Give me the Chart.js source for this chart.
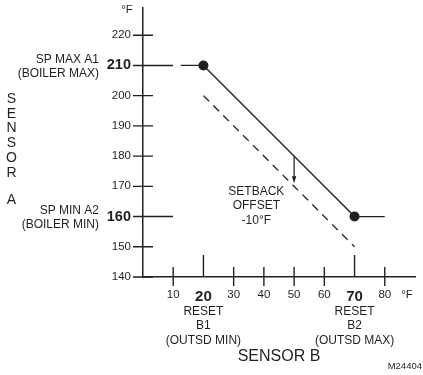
<!DOCTYPE html>
<html>
<head>
<meta charset="utf-8">
<script src="https://cdn.jsdelivr.net/npm/chart.js@4"></script>
<style>
  html, body { margin: 0; padding: 0; background: #fff; }
  canvas { display: block; }
</style>
</head>
<body>
<canvas id="resetChart" width="423" height="375"></canvas>
<script>
// tick values on each axis
const xTicks = [10, 20, 30, 40, 50, 60, 70, 80];
const yTicks = [140, 150, 160, 170, 180, 190, 200, 210, 220];
const boldX = [20, 70];
const boldY = [160, 210];

// reset curve (outdoor temp -> boiler setpoint)
const curveX = [12.5, 20, 70, 80];
const curveY = [210, 210, 160, 160];

// setback curve, offset -10°F
const setbackX = [20, 70];
const setbackY = [200, 150];

// setback offset arrow
const arrowX = 50;
const arrowFrom = 180;
const arrowTo = 170;

const ink = '#231f20';
const font = 'Liberation Sans, Arial, sans-serif';

const decor = {
    id: 'decor',
    afterDraw(chart) {
        const { ctx, scales: { x, y } } = chart;
        const left = x.left, bottom = y.bottom;
        ctx.save();
        ctx.strokeStyle = ink;
        ctx.fillStyle = ink;
        ctx.lineWidth = 1.4;

        // tick marks crossing the axes
        ctx.beginPath();
        yTicks.forEach(v => {
            const py = y.getPixelForValue(v);
            ctx.moveTo(left - 10, py);
            ctx.lineTo(left + (boldY.includes(v) ? 30 : 10), py);
        });
        xTicks.forEach(v => {
            const px = x.getPixelForValue(v);
            if (boldX.includes(v)) {
                ctx.moveTo(px, bottom - 22);
                ctx.lineTo(px, bottom);
            } else {
                ctx.moveTo(px, bottom - 10);
                ctx.lineTo(px, bottom + 9);
            }
        });
        ctx.stroke();

        // setback arrow
        const ax = x.getPixelForValue(arrowX);
        const a1 = y.getPixelForValue(arrowFrom);
        const a2 = y.getPixelForValue(arrowTo) - 3;
        ctx.lineWidth = 1.2;
        ctx.beginPath();
        ctx.moveTo(ax, a1);
        ctx.lineTo(ax, a2 - 4);
        ctx.stroke();
        ctx.beginPath();
        ctx.moveTo(ax - 2.2, a2 - 7);
        ctx.lineTo(ax + 2.2, a2 - 7);
        ctx.lineTo(ax, a2);
        ctx.closePath();
        ctx.fill();

        // annotations
        ctx.textBaseline = 'middle';
        ctx.font = '12px ' + font;
        ctx.textAlign = 'right';
        const y210 = y.getPixelForValue(210), y160 = y.getPixelForValue(160);
        ctx.fillText('SP MAX A1', 99, y210 - 6);
        ctx.fillText('(BOILER MAX)', 99, y210 + 8);
        ctx.fillText('SP MIN A2', 99, y160 - 6);
        ctx.fillText('(BOILER MIN)', 99, y160 + 8);

        ctx.textAlign = 'center';
        [[20, 'B1', '(OUTSD MIN)'], [70, 'B2', '(OUTSD MAX)']].forEach(([v, b, t]) => {
            const px = x.getPixelForValue(v);
            ctx.fillText('RESET', px, bottom + 35);
            ctx.fillText(b, px, bottom + 49);
            ctx.fillText(t, px, bottom + 64);
        });

        const sx = x.getPixelForValue(37.5);
        const sy = y.getPixelForValue(170);
        ctx.fillText('SETBACK', sx, sy + 5);
        ctx.fillText('OFFSET', sx, sy + 19);
        ctx.fillText('-10°F', sx, sy + 34);

        ctx.font = '11.5px ' + font;
        ctx.fillText('°F', 127, 10);
        ctx.fillText('°F', 407, bottom + 18);

        ctx.font = '16px ' + font;
        ctx.fillText('SENSOR B', x.getPixelForValue(45), bottom + 80);

        ctx.font = '14px ' + font;
        'SENSOR'.split('').forEach((ch, i) => ctx.fillText(ch, 11.5, 99 + i * 14.8));
        ctx.fillText('A', 11.5, 200);

        ctx.font = '9.5px ' + font;
        ctx.textAlign = 'right';
        ctx.fillText('M24404', 422, 366);
        ctx.restore();
    }
};

const chartCtx = document.getElementById('resetChart').getContext('2d');
const resetChart = new Chart(chartCtx, {
    type: 'line',
    data: {
        datasets: [{
            label: 'Reset',
            data: curveX.map((v, i) => ({ x: v, y: curveY[i] })),
            borderColor: ink,
            borderWidth: 1.3,
            backgroundColor: ink,
            pointRadius: c => (c.dataIndex === 1 || c.dataIndex === 2) ? 5 : 0,
            pointBorderWidth: 0,
            fill: false,
            tension: 0
        }, {
            label: 'Setback',
            data: setbackX.map((v, i) => ({ x: v, y: setbackY[i] })),
            borderColor: ink,
            borderWidth: 1.3,
            borderDash: [8, 6],
            pointRadius: 0,
            fill: false,
            tension: 0
        }]
    },
    options: {
        responsive: false,
        animation: false,
        events: [],
        layout: { padding: { top: 8, right: 8, left: 0, bottom: 0 } },
        plugins: { legend: { display: false }, tooltip: { enabled: false } },
        scales: {
            x: {
                type: 'linear',
                min: 0,
                max: 90,
                afterBuildTicks: s => { s.ticks = xTicks.map(v => ({ value: v })); },
                afterFit: s => { s.height = 98; s.paddingLeft = 0; s.paddingRight = 0; },
                grid: { display: false, drawTicks: false },
                border: { display: true, color: ink, width: 1.5 },
                ticks: {
                    color: ink,
                    padding: 11,
                    maxRotation: 0,
                    autoSkip: false,
                    font: c => boldX.includes(c.tick && c.tick.value)
                        ? { family: font, size: 15, weight: 'bold' }
                        : { family: font, size: 11.5 }
                }
            },
            y: {
                type: 'linear',
                min: 140,
                max: 229,
                afterBuildTicks: s => { s.ticks = yTicks.map(v => ({ value: v })); },
                afterFit: s => { s.width = 143; s.paddingTop = 0; s.paddingBottom = 0; },
                grid: { display: false, drawTicks: false },
                border: { display: true, color: ink, width: 1.5 },
                ticks: {
                    color: ink,
                    padding: 12,
                    autoSkip: false,
                    font: c => boldY.includes(c.tick && c.tick.value)
                        ? { family: font, size: 14.5, weight: 'bold' }
                        : { family: font, size: 11.5 }
                }
            }
        }
    },
    plugins: [decor]
});
</script>
</body>
</html>
